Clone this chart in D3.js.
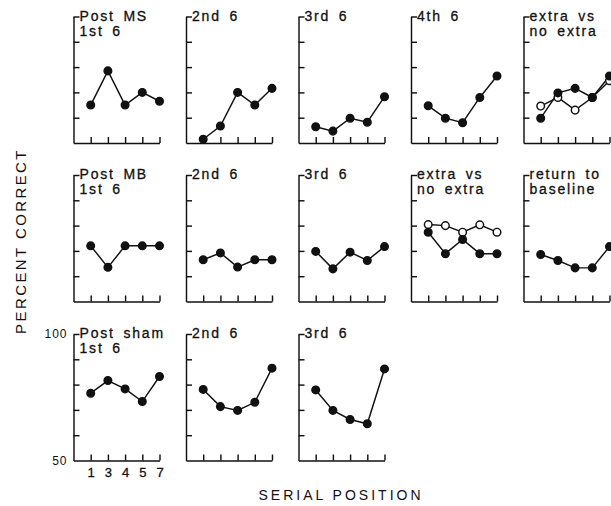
<!DOCTYPE html>
<html><head><meta charset="utf-8">
<script src="https://cdn.jsdelivr.net/npm/d3@7"></script>
<style>body{margin:0;background:#fff} svg{display:block}</style>
</head><body><svg id="c" width="611" height="506"></svg>
<script>
// ---- data ----
const xLabels = ["1", "3", "4", "5", "7"];
const yTicks = [60, 70, 80, 90, 100];
const yLabelTicks = [50, 100];

// Row 1: Post MS
const postMS1st = [65, 78.5, 65, 70, 66.5];
const postMS2nd = [51.5, 56.7, 70, 65, 71.6];
const postMS3rd = [56.4, 54.7, 59.8, 58.2, 68.3];
const postMS4th = [64.7, 59.8, 58, 68, 76.5];
const postMSExtraFilled = [59.8, 69.8, 71.6, 68, 76.5];
const postMSExtraOpen = [64.6, 68, 63, 68, 74.6];

// Row 2: Post MB
const postMB1st = [72, 63.5, 72, 72, 72];
const postMB2nd = [66.5, 69.2, 63.6, 66.5, 66.5];
const postMB3rd = [69.8, 62.9, 69.5, 66.2, 71.7];
const postMBExtraFilled = [77.4, 68.9, 74.5, 68.9, 68.9];
const postMBExtraOpen = [80.4, 80, 77.4, 80.3, 77.4];
const postMBBaseline = [68.6, 66.2, 63.3, 63.3, 71.7];

// Row 3: Post sham
const postSham1st = [76.6, 81.6, 78.3, 73.3, 83.2];
const postSham2nd = [78.1, 71.3, 69.8, 73, 86.5];
const postSham3rd = [77.9, 69.8, 66.2, 64.5, 86.2];

const rows = [
  [
    {title: ["Post MS", "1st 6"], series: [{v: postMS1st, open: false}]},
    {title: ["2nd 6"], series: [{v: postMS2nd, open: false}]},
    {title: ["3rd 6"], series: [{v: postMS3rd, open: false}]},
    {title: ["4th 6"], series: [{v: postMS4th, open: false}]},
    {title: ["extra vs", "no extra"], series: [{v: postMSExtraOpen, open: true}, {v: postMSExtraFilled, open: false}]}
  ],
  [
    {title: ["Post MB", "1st 6"], series: [{v: postMB1st, open: false}]},
    {title: ["2nd 6"], series: [{v: postMB2nd, open: false}]},
    {title: ["3rd 6"], series: [{v: postMB3rd, open: false}]},
    {title: ["extra vs", "no extra"], series: [{v: postMBExtraOpen, open: true}, {v: postMBExtraFilled, open: false}]},
    {title: ["return to", "baseline"], series: [{v: postMBBaseline, open: false}]}
  ],
  [
    {title: ["Post sham", "1st 6"], series: [{v: postSham1st, open: false}], labels: true},
    {title: ["2nd 6"], series: [{v: postSham2nd, open: false}]},
    {title: ["3rd 6"], series: [{v: postSham3rd, open: false}]}
  ]
];

// ---- layout ----
const svg = d3.select("#c");
const colX0 = 73.5, colStep = 112.5;
const rowTops = [16.5, 175, 334];
const ph = 126.5, pw = 86;
const ink = "#111";
const font = "'Liberation Sans', Arial, sans-serif";
const sw = 1.45;

const y = d3.scaleLinear().domain([50, 100]).range([ph, 0]);
const x = d3.scaleLinear().domain([0, 5]).range([0, pw]);
const line = d3.line().x((d, i) => x(i + 1)).y(d => y(d));

rows.forEach((row, ri) => {
  row.forEach((p, ci) => {
    const g = svg.append("g").attr("transform", `translate(${colX0 + ci * colStep},${rowTops[ri]})`);

    const ya = g.append("g").call(
      d3.axisLeft(y).tickValues(yTicks).tickSize(-6).tickSizeOuter(0).tickFormat(""));
    const xa = g.append("g").attr("transform", `translate(0,${ph})`).call(
      d3.axisBottom(x).tickValues([1, 2, 3, 4, 5]).tickSize(-6).tickSizeOuter(0)
        .tickPadding(7).tickFormat(p.labels ? (d => xLabels[d - 1]) : ""));
    [ya, xa].forEach(a => {
      a.selectAll("path,line").attr("stroke", ink).attr("stroke-width", sw);
      a.selectAll("text").attr("fill", ink).attr("stroke", ink).attr("stroke-width", 0.3)
        .style("font-family", font).style("font-size", "13px");
    });

    if (p.labels) {
      const yl = g.append("g").call(d3.axisLeft(y).tickValues(yLabelTicks).tickSize(0).tickPadding(6).tickFormat(d3.format("d")));
      yl.select(".domain").remove();
      yl.selectAll("text").attr("fill", ink).style("font-family", font)
        .style("font-size", "12px").style("letter-spacing", "1px");
    }

    p.title.forEach((t, k) => {
      g.append("text").attr("x", 6).attr("y", 4 + k * 15)
        .text(t).attr("fill", ink).attr("stroke", ink).attr("stroke-width", 0.3)
        .style("font-family", font).style("font-size", "14px")
        .style("letter-spacing", "1.8px").style("word-spacing", "3px");
    });

    p.series.forEach(s => {
      g.append("path").datum(s.v).attr("d", line)
        .attr("fill", "none").attr("stroke", ink).attr("stroke-width", sw);
    });
    p.series.forEach(s => {
      g.selectAll(null).data(s.v).join("circle")
        .attr("cx", (d, i) => x(i + 1)).attr("cy", d => y(d))
        .attr("r", 3.8)
        .attr("fill", s.open ? "#fff" : ink)
        .attr("stroke", ink).attr("stroke-width", sw);
    });
  });
});

// axis titles
svg.append("text")
  .attr("transform", "translate(26,241) rotate(-90)")
  .attr("text-anchor", "middle")
  .text("PERCENT CORRECT")
  .attr("fill", ink).style("font-family", font).style("font-size", "15px").style("letter-spacing", "2.4px");

svg.append("text")
  .attr("x", 341).attr("y", 500)
  .attr("text-anchor", "middle")
  .text("SERIAL POSITION")
  .attr("fill", ink).style("font-family", font).style("font-size", "14px").style("letter-spacing", "3px");
</script></body></html>
